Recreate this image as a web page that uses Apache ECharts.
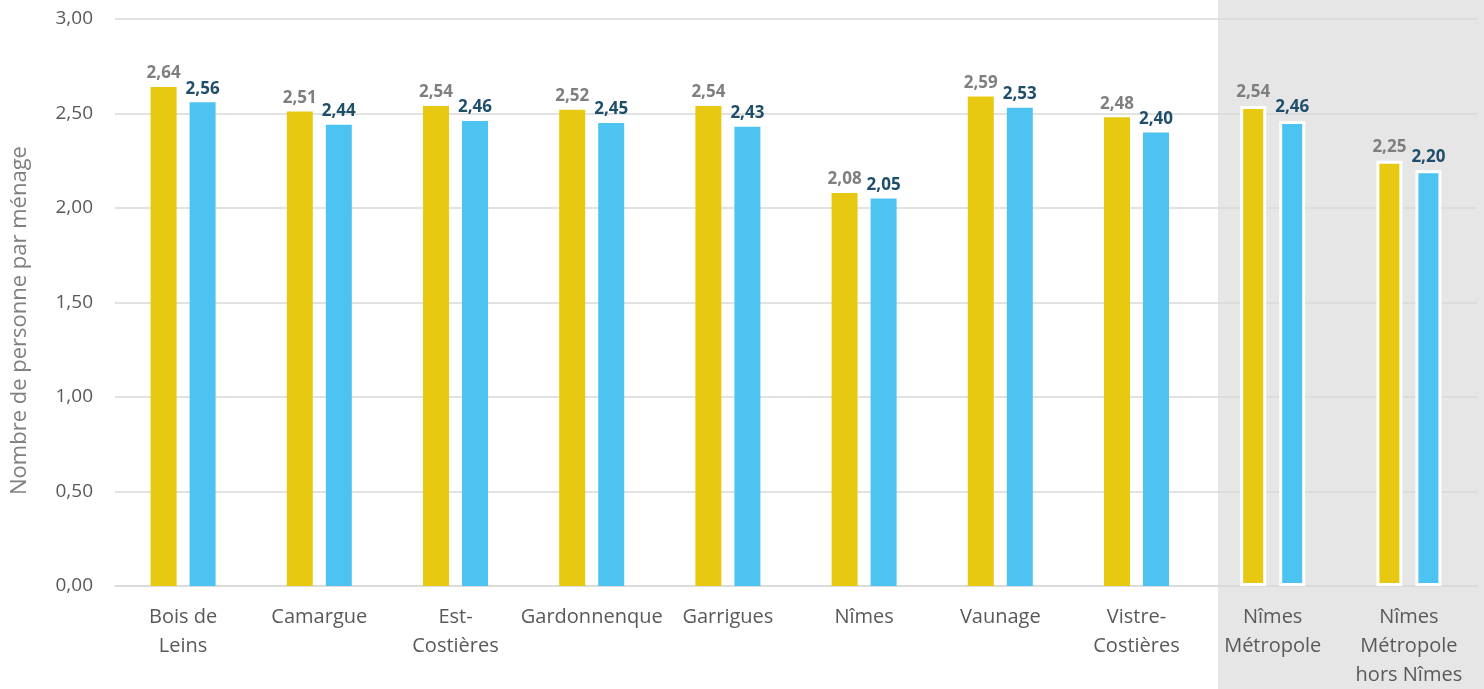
<!DOCTYPE html>
<html>
<head>
<meta charset="utf-8">
<script src="https://cdn.jsdelivr.net/npm/echarts@6/dist/echarts.min.js"></script>
<style>
  html, body { margin: 0; padding: 0; background: #fff; }
  #chart { width: 1484px; height: 689px; }
</style>
</head>
<body>
<div id="chart"></div>
<script>
// catégories (axe X)
const categories = ['Bois de\nLeins', 'Camargue', 'Est-\nCostières', 'Gardonnenque', 'Garrigues',
  'Nîmes', 'Vaunage', 'Vistre-\nCostières', 'Nîmes\nMétropole', 'Nîmes\nMétropole\nhors Nîmes'];
// valeurs des deux séries
const serieJaune = [2.64, 2.51, 2.54, 2.52, 2.54, 2.08, 2.59, 2.48, 2.54, 2.25];
const serieBleue = [2.56, 2.44, 2.46, 2.45, 2.43, 2.05, 2.53, 2.40, 2.46, 2.20];
// catégories mises en évidence (fond gris)
const encadre = [8, 9];

const fmt = v => v.toFixed(2).replace('.', ',');

const chart = echarts.init(document.getElementById('chart'));
window.addEventListener('resize', () => chart.resize());

function buildData(values) {
  return values.map((v, i) => encadre.includes(i)
    ? { value: v, itemStyle: { borderColor: '#fff', borderWidth: 3 } }
    : v);
}

function makeSeries(name, values, color, labelColor) {
  return {
    name,
    type: 'bar',
    data: buildData(values),
    barWidth: 26,
    barGap: '50%',
    itemStyle: { color },
    label: {
      show: true,
      position: 'top',
      distance: 5,
      color: labelColor,
      fontWeight: 'bold',
      fontSize: 17,
      fontFamily: 'Open Sans',
      formatter: p => fmt(p.value)
    }
  };
}

chart.setOption({
  animation: false,
  textStyle: { fontFamily: 'Open Sans' },
  graphic: [{
    type: 'rect',
    left: 1218, top: 0, z: -10,
    shape: { width: 266, height: 689 },
    style: { fill: '#e7e6e6' }
  }],
  grid: { left: 115, right: 7, top: 19, bottom: 103, outerBoundsMode: 'none', containLabel: false },
  xAxis: {
    type: 'category',
    data: categories,
    axisTick: { show: false },
    axisLine: { lineStyle: { color: '#d9d9d9', width: 1.5 } },
    axisLabel: {
      color: '#595959',
      fontSize: 20,
      lineHeight: 29,
      margin: 17,
      interval: 0
    }
  },
  yAxis: {
    type: 'value',
    min: 0,
    max: 3,
    interval: 0.5,
    name: 'Nombre de personne par ménage',
    nameLocation: 'middle',
    nameGap: 84,
    nameTextStyle: { color: '#808080', fontSize: 22, padding: [0, 36, 0, 0] },
    axisLabel: { color: '#595959', fontSize: 19, margin: 22, formatter: fmt },
    splitLine: { lineStyle: { color: '#d9d9d9', width: 1.5 } }
  },
  series: [
    makeSeries('Jaune', serieJaune, '#e8c912', '#7f7f7f'),
    makeSeries('Bleue', serieBleue, '#4dc3f2', '#1f4e6b')
  ]
});
</script>
</body>
</html>
